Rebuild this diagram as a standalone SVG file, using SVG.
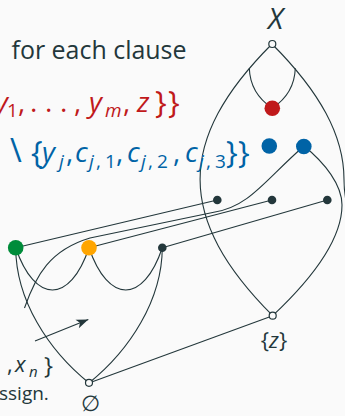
<svg xmlns="http://www.w3.org/2000/svg" width="345" height="416" viewBox="0 0 345 416">
<style>
.ln{fill:none;stroke:#23373b;stroke-width:1.1}
.open{fill:#fafafa;stroke:#23373b;stroke-width:1.2}
.dk{fill:#23373b}
.t{font-family:"Open Sans","Noto Sans",sans-serif;fill:#23373b}
.m{font-family:"Open Sans","Noto Sans",sans-serif;font-style:italic}
.up{font-style:normal}
.red{fill:#c0191b}
.blue{fill:#0063a6}
</style>
<defs>
<marker id="ah" markerUnits="userSpaceOnUse" markerWidth="14" markerHeight="10" viewBox="-13 -5 14 10" refX="0" refY="0" orient="auto">
<path d="M0,0 L-12,-4.5 L-9,0 L-12,4.5 Z" fill="#23373b"/>
</marker>
</defs>
<rect width="345" height="416" fill="#fafafa"/>

<g id="connectors">
<path class="ln" d="M272,44 C176,140 176,219 272.7,315.7"/>
<path class="ln" d="M272,44 C320,92 344,135.75 344,179.5 C344,186 344.5,192 345.5,198"/>
<path class="ln" d="M249.3,68.3 C250,88 260,100 272,108"/>
<path class="ln" d="M295.3,68.3 C294.6,88 284.6,100 272.6,108"/>
<path class="ln" d="M304,146 C325,163 342,185 342,205 C342,245 300,290 272.7,315.7"/>
<path class="ln" d="M15.7,247.7 L217.3,200"/>
<path class="ln" d="M89,247.7 L272,200"/>
<path class="ln" d="M162.3,247.7 L327.3,200"/>
<path class="ln" d="M24.5,308 C36,275 50,250 90,238 L215,212 C250,206 265,180 304,146"/>
<path class="ln" d="M15.7,247.7 C16,300 48,350 89,383"/>
<path class="ln" d="M162.3,247.7 C162,300 130,350 89,383"/>
<path class="ln" d="M15.7,247.7 C35,304 70,304 89,247.7"/>
<path class="ln" d="M89,247.7 C108.3,304 143.3,304 162.3,247.7"/>
<path class="ln" d="M89,383 L272.7,315.7"/>
<path class="ln" d="M35,341 L88.3,319.5" marker-end="url(#ah)"/>
</g>

<g id="node-X"><circle class="open" cx="272.3" cy="44" r="3.5"/></g>
<g id="node-red"><circle cx="272.3" cy="108.3" r="7.8" fill="#c0191b"/></g>
<g id="node-blue1"><circle cx="269.3" cy="146" r="7.8" fill="#0063a6"/></g>
<g id="node-blue2"><circle cx="303.8" cy="146.5" r="7.8" fill="#0063a6"/></g>
<g id="node-d1"><circle class="dk" cx="217.3" cy="200" r="4.3"/></g>
<g id="node-d2"><circle class="dk" cx="272" cy="200" r="4.3"/></g>
<g id="node-d3"><circle class="dk" cx="327.3" cy="200" r="4.3"/></g>
<g id="node-green"><circle cx="15.7" cy="247.7" r="7.8" fill="#008c3a"/></g>
<g id="node-orange"><circle cx="89" cy="247.7" r="7.8" fill="#ffa500"/></g>
<g id="node-d4"><circle class="dk" cx="162.3" cy="247.7" r="4.3"/></g>
<g id="node-z"><circle class="open" cx="272.7" cy="315.7" r="3.5"/></g>
<g id="node-empty"><circle class="open" cx="89" cy="382.8" r="3.5"/></g>

<g id="labels">
<text class="t m" x="275.5" y="28.5" font-size="29" text-anchor="middle">X</text>
<text class="t" x="11.5" y="59.3" font-size="25.5" textLength="175" lengthAdjust="spacingAndGlyphs">for each clause</text>
<text class="m red" font-size="28" y="111.5"><tspan x="-5">y</tspan><tspan class="up" x="7" y="116.5" font-size="19">1</tspan><tspan class="up" x="18" y="111.5">,</tspan><tspan class="up" x="30">.</tspan><tspan class="up" x="45">.</tspan><tspan class="up" x="60">.</tspan><tspan class="up" x="74">,</tspan><tspan x="89">y</tspan><tspan x="105" y="116.5" font-size="19">m</tspan><tspan class="up" x="123" y="111.5">,</tspan><tspan x="137">z</tspan><tspan class="up" x="155" y="113" font-size="31">}</tspan><tspan class="up" x="168" font-size="31">}</tspan></text>
<text class="m blue" font-size="28" y="161.7"><tspan class="up" x="10" y="162" font-size="32">\</tspan><tspan class="up" x="31" y="163" font-size="31">{</tspan><tspan x="42" y="161.7">y</tspan><tspan x="59" y="168" font-size="19">j</tspan><tspan class="up" x="66" y="161.7">,</tspan><tspan x="75">c</tspan><tspan x="89" y="168" font-size="19">j</tspan><tspan class="up" x="96" font-size="19">,</tspan><tspan class="up" x="105" font-size="19">1</tspan><tspan class="up" x="116" y="161.7">,</tspan><tspan x="127">c</tspan><tspan x="141" y="168" font-size="19">j</tspan><tspan class="up" x="148" font-size="19">,</tspan><tspan class="up" x="157" font-size="19">2</tspan><tspan class="up" x="173" y="161.7">,</tspan><tspan x="185">c</tspan><tspan x="199" y="168" font-size="19">j</tspan><tspan class="up" x="206" font-size="19">,</tspan><tspan class="up" x="215" font-size="19">3</tspan><tspan class="up" x="226" y="163" font-size="31">}</tspan><tspan class="up" x="238" font-size="31">}</tspan></text>
<text class="t" font-size="22" y="372"><tspan x="7">,</tspan><tspan class="m" x="15">x</tspan><tspan class="m" x="29" y="377" font-size="15">n</tspan><tspan x="44" y="374" font-size="24">}</tspan></text>
<text class="t" x="-1" y="400" font-size="19">ssign.</text>
<text class="t" x="90" y="411" font-size="22" text-anchor="middle">∅</text>
<text class="t" x="274" y="348.3" font-size="22" text-anchor="middle">{<tspan class="m">z</tspan>}</text>
</g>
</svg>
